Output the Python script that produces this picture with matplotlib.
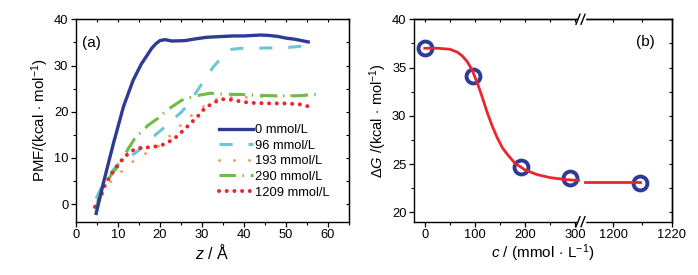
import matplotlib
matplotlib.use("Agg")
import matplotlib.pyplot as plt
from matplotlib.lines import Line2D
from matplotlib.ticker import MultipleLocator, FixedLocator

plt.rcParams['font.family'] = ['Liberation Sans', 'DejaVu Sans']
plt.rcParams['mathtext.fontset'] = 'custom'
plt.rcParams['mathtext.rm'] = 'Liberation Sans'
plt.rcParams['mathtext.it'] = 'Liberation Sans:italic'
plt.rcParams['mathtext.bf'] = 'Liberation Sans:bold'

# ---------------- data: panel (a) ----------------
z_0 = [4.8, 6.5, 8.9, 11.3, 13.6, 15.6, 17.0, 18.0, 19.0, 20.0, 21.2, 22.8, 24.8, 26.0,
       28.0, 29.5, 31.1, 33.0, 37.5, 40.0, 44.0, 46.0, 48.0, 50.2, 52.0, 55.3]
pmf_0 = [-2.0, 4.5, 13.1, 21.1, 26.8, 30.4, 32.3, 33.7, 34.7, 35.4, 35.6, 35.3, 35.35, 35.4,
         35.7, 35.9, 36.1, 36.2, 36.4, 36.4, 36.6, 36.5, 36.3, 35.9, 35.7, 35.1]

z_96 = [4.8, 6.5, 8.5, 10.5, 12.1, 14.0, 16.0, 18.4, 20.5, 22.4, 25.2, 27.0, 28.7, 30.3,
        32.7, 35.5, 37.0, 39.0, 46.0, 49.0, 52.9, 55.7]
pmf_96 = [1.2, 4.5, 7.0, 9.2, 9.9, 11.0, 12.4, 14.6, 16.2, 17.8, 20.0, 22.0, 24.3, 26.5,
          29.7, 32.6, 33.5, 33.7, 33.8, 33.8, 34.1, 34.4]

z_193 = [4.8, 6.0, 7.5, 9.5, 11.3, 13.0, 14.8, 16.7, 18.6, 20.5, 22.4, 24.3, 26.2, 28.0,
         29.8, 31.7, 33.6, 37.4, 41.0, 45.0, 50.0, 53.0, 55.5]
pmf_193 = [-0.8, 1.5, 4.1, 6.0, 7.4, 8.8, 10.1, 11.0, 11.8, 13.2, 14.8, 16.5, 18.2, 19.6,
           20.8, 22.0, 22.7, 23.1, 23.1, 23.3, 23.4, 23.6, 23.7]

z_290 = [4.8, 6.5, 8.5, 10.5, 12.5, 14.0, 17.2, 19.4, 21.6, 25.2, 27.3, 29.5, 32.0, 35.0,
         40.0, 45.0, 50.0, 54.0, 57.3]
pmf_290 = [-0.6, 3.7, 6.5, 8.8, 12.1, 14.2, 17.1, 18.5, 20.3, 22.5, 23.1, 23.6, 24.0, 23.8,
           23.7, 23.5, 23.4, 23.5, 23.8]

z_1209 = [4.5, 5.5, 6.3, 7.1, 8.3, 9.5, 10.9, 12.6, 14.4, 16.2, 18.3, 20.0, 21.8, 23.7,
          25.5, 27.3, 29.0, 30.7, 32.7, 34.4, 36.3, 38.1, 40.0, 42.0, 46.0, 50.0, 53.2, 55.1]
pmf_1209 = [-0.6, 1.0, 2.8, 4.5, 6.3, 7.9, 9.5, 11.1, 12.1, 12.2, 12.4, 12.6, 13.3, 14.4,
            15.9, 17.5, 19.0, 20.8, 21.9, 22.7, 22.7, 22.4, 22.1, 21.9, 21.8, 21.8, 21.6, 21.2]

legend_labels = ['0 mmol/L', '96 mmol/L', '193 mmol/L', '290 mmol/L', '1209 mmol/L']

# ---------------- data: panel (b) ----------------
conc = [0, 96, 193, 290, 1209]
dG = [37.0, 34.1, 24.7, 23.6, 23.0]

fit_c_low = [0, 25, 50, 65, 75, 85, 95, 105, 115, 125, 135, 145, 155, 165, 180, 200, 225,
             250, 280, 307]
fit_g_low = [37.0, 37.0, 36.9, 36.6, 36.2, 35.6, 34.7, 33.4, 31.9, 30.3, 28.9, 27.7, 26.7,
             26.0, 25.1, 24.4, 23.9, 23.6, 23.4, 23.3]
fit_c_high = [1190.5, 1209]
fit_g_high = [23.1, 23.1]

# ---------------- figure ----------------
W, H = 698, 275
fig = plt.figure(figsize=(W / 100, H / 100), dpi=100)


def rect(x0, x1, ytop, ybot):
    return [x0 / W, 1 - ybot / H, (x1 - x0) / W, (ybot - ytop) / H]


TOP, BOT = 19.3, 221.7
FS = 9.3

blue = '#2E3B96'
cyan = '#6EC6D2'
orange = '#F2A06A'
green = '#6BBD46'
red = '#E8262E'


def style_ticks(ax):
    ax.tick_params(which='major', direction='out', length=3.5, width=0.9, labelsize=FS,
                   pad=2, colors='black')
    ax.tick_params(which='minor', direction='out', length=2, width=0.8)
    for s in ax.spines.values():
        s.set_linewidth(1.0)


# panel (a)
axa = fig.add_axes(rect(76, 349, TOP, BOT))
axa.plot(z_96, pmf_96, color=cyan, lw=2.2, linestyle=(0, (4.3, 5.2)), label=legend_labels[1], zorder=2)
axa.plot(z_193, pmf_193, color=orange, lw=2.2, linestyle=(0, (0.01, 4.9)),
         dash_capstyle='round', label=legend_labels[2], zorder=2)
axa.plot(z_290, pmf_290, color=green, lw=2.2, linestyle=(0, (5.4, 2.1, 0.45, 2.3)),
         label=legend_labels[3], zorder=3)
axa.plot(z_1209, pmf_1209, color=red, lw=2.9, linestyle=(0, (0.01, 1.9)),
         dash_capstyle='round', label=legend_labels[4], zorder=4)
axa.plot(z_0, pmf_0, color=blue, lw=2.4, label=legend_labels[0], zorder=5)
axa.set_xlim(0, 65)
axa.set_ylim(-3.8, 40)
axa.xaxis.set_major_locator(MultipleLocator(10))
axa.xaxis.set_minor_locator(MultipleLocator(5))
axa.yaxis.set_major_locator(MultipleLocator(10))
axa.yaxis.set_minor_locator(MultipleLocator(5))
style_ticks(axa)
sx = axa.secondary_xaxis('top')
sx.xaxis.set_major_locator(MultipleLocator(10))
sx.xaxis.set_minor_locator(MultipleLocator(5))
sx.tick_params(which='both', direction='in', labeltop=False, length=2.5, width=0.8)
sy = axa.secondary_yaxis('right')
sy.yaxis.set_major_locator(MultipleLocator(10))
sy.yaxis.set_minor_locator(MultipleLocator(5))
sy.tick_params(which='both', direction='in', labelright=False, length=2.5, width=0.8)

axa.set_xlabel('$\\mathit{z}$ / Å', fontsize=11.5, labelpad=1)
axa.set_ylabel('PMF/(kcal$\\,\\cdot\\,$mol$^{-1}$)', fontsize=10.8, labelpad=2)
axa.text(82 / W, 1 - 43 / H, '(a)', transform=fig.transFigure, fontsize=11, va='center', ha='left')

handles, labels = axa.get_legend_handles_labels()
order = [labels.index(l) for l in legend_labels]
leg = axa.legend([handles[i] for i in order], [labels[i] for i in order],
                 loc='upper left', bbox_to_anchor=(219 / W, 1 - 124 / H),
                 bbox_transform=fig.transFigure, frameon=False, fontsize=FS,
                 handlelength=2.6, handletextpad=0.15, labelspacing=0.28,
                 borderpad=0, borderaxespad=0)

# panel (b) : broken x axis
XB = 581
axb1 = fig.add_axes(rect(414, XB, TOP, BOT))
axb2 = fig.add_axes(rect(XB, 671.7, TOP, BOT), sharey=axb1)

for ax in (axb1, axb2):
    ax.plot(conc, dG, linestyle='none', marker='o', markersize=10, markerfacecolor='none',
            markeredgecolor=blue, markeredgewidth=2.8, zorder=3, clip_on=False)
axb1.plot(fit_c_low, fit_g_low, color=red, lw=2.0, zorder=4)
axb2.plot(fit_c_high, fit_g_high, color=red, lw=2.0, zorder=4)

axb1.set_xlim(-21.5, 312)
axb2.set_xlim(1189, 1220)
axb1.set_ylim(19.03, 40)
axb1.xaxis.set_major_locator(FixedLocator([0, 100, 200, 300]))
axb1.xaxis.set_minor_locator(FixedLocator([50, 150, 250]))
axb2.xaxis.set_major_locator(FixedLocator([1200, 1220]))
axb2.xaxis.set_minor_locator(FixedLocator([1210]))
axb1.yaxis.set_major_locator(MultipleLocator(5))
axb1.yaxis.set_minor_locator(MultipleLocator(2.5))
for ax in (axb1, axb2):
    style_ticks(ax)
axb1.spines['right'].set_visible(False)
axb2.spines['left'].set_visible(False)
axb2.tick_params(axis='y', which='both', left=False, labelleft=False)

sxb1 = axb1.secondary_xaxis('top')
sxb1.xaxis.set_major_locator(FixedLocator([0, 100, 200, 300]))
sxb1.xaxis.set_minor_locator(FixedLocator([50, 150, 250]))
sxb1.tick_params(which='both', direction='in', labeltop=False, length=2.5, width=0.8)
sxb1.spines['top'].set_linewidth(1.0)
sxb2 = axb2.secondary_xaxis('top')
sxb2.xaxis.set_major_locator(FixedLocator([1200, 1220]))
sxb2.xaxis.set_minor_locator(FixedLocator([1210]))
sxb2.tick_params(which='both', direction='in', labeltop=False, length=2.5, width=0.8)
sxb2.spines['top'].set_linewidth(1.0)
syb2 = axb2.secondary_yaxis('right')
syb2.yaxis.set_major_locator(MultipleLocator(5))
syb2.yaxis.set_minor_locator(MultipleLocator(2.5))
syb2.tick_params(which='both', direction='in', labelright=False, length=2.5, width=0.8)
syb2.spines['right'].set_linewidth(1.0)

axb1.set_ylabel('$\\mathit{\\Delta G}$ /(kcal$\\,\\cdot\\,$mol$^{-1}$)', fontsize=10.5, labelpad=2)
fig.text(543 / W, 1 - 253 / H, '$\\mathit{c}$ / (mmol$\\,\\cdot\\,$L$^{-1}$)', fontsize=11,
         ha='center', va='center')
fig.text(636 / W, 1 - 42 / H, '(b)', fontsize=11, va='center', ha='left')

# break marks
for yb in (TOP, BOT):
    fig.add_artist(Line2D([(XB - 2.5) / W, (XB + 2.5) / W], [1 - yb / H, 1 - yb / H],
                          transform=fig.transFigure, color='white', lw=2.5, zorder=10))
    for dx in (-3.0, 2.0):
        fig.add_artist(Line2D([(XB + dx - 2) / W, (XB + dx + 2) / W],
                              [1 - (yb + 5) / H, 1 - (yb - 5) / H],
                              transform=fig.transFigure, color='black', lw=1.0, zorder=11))

fig.savefig('out.png', dpi=100)
